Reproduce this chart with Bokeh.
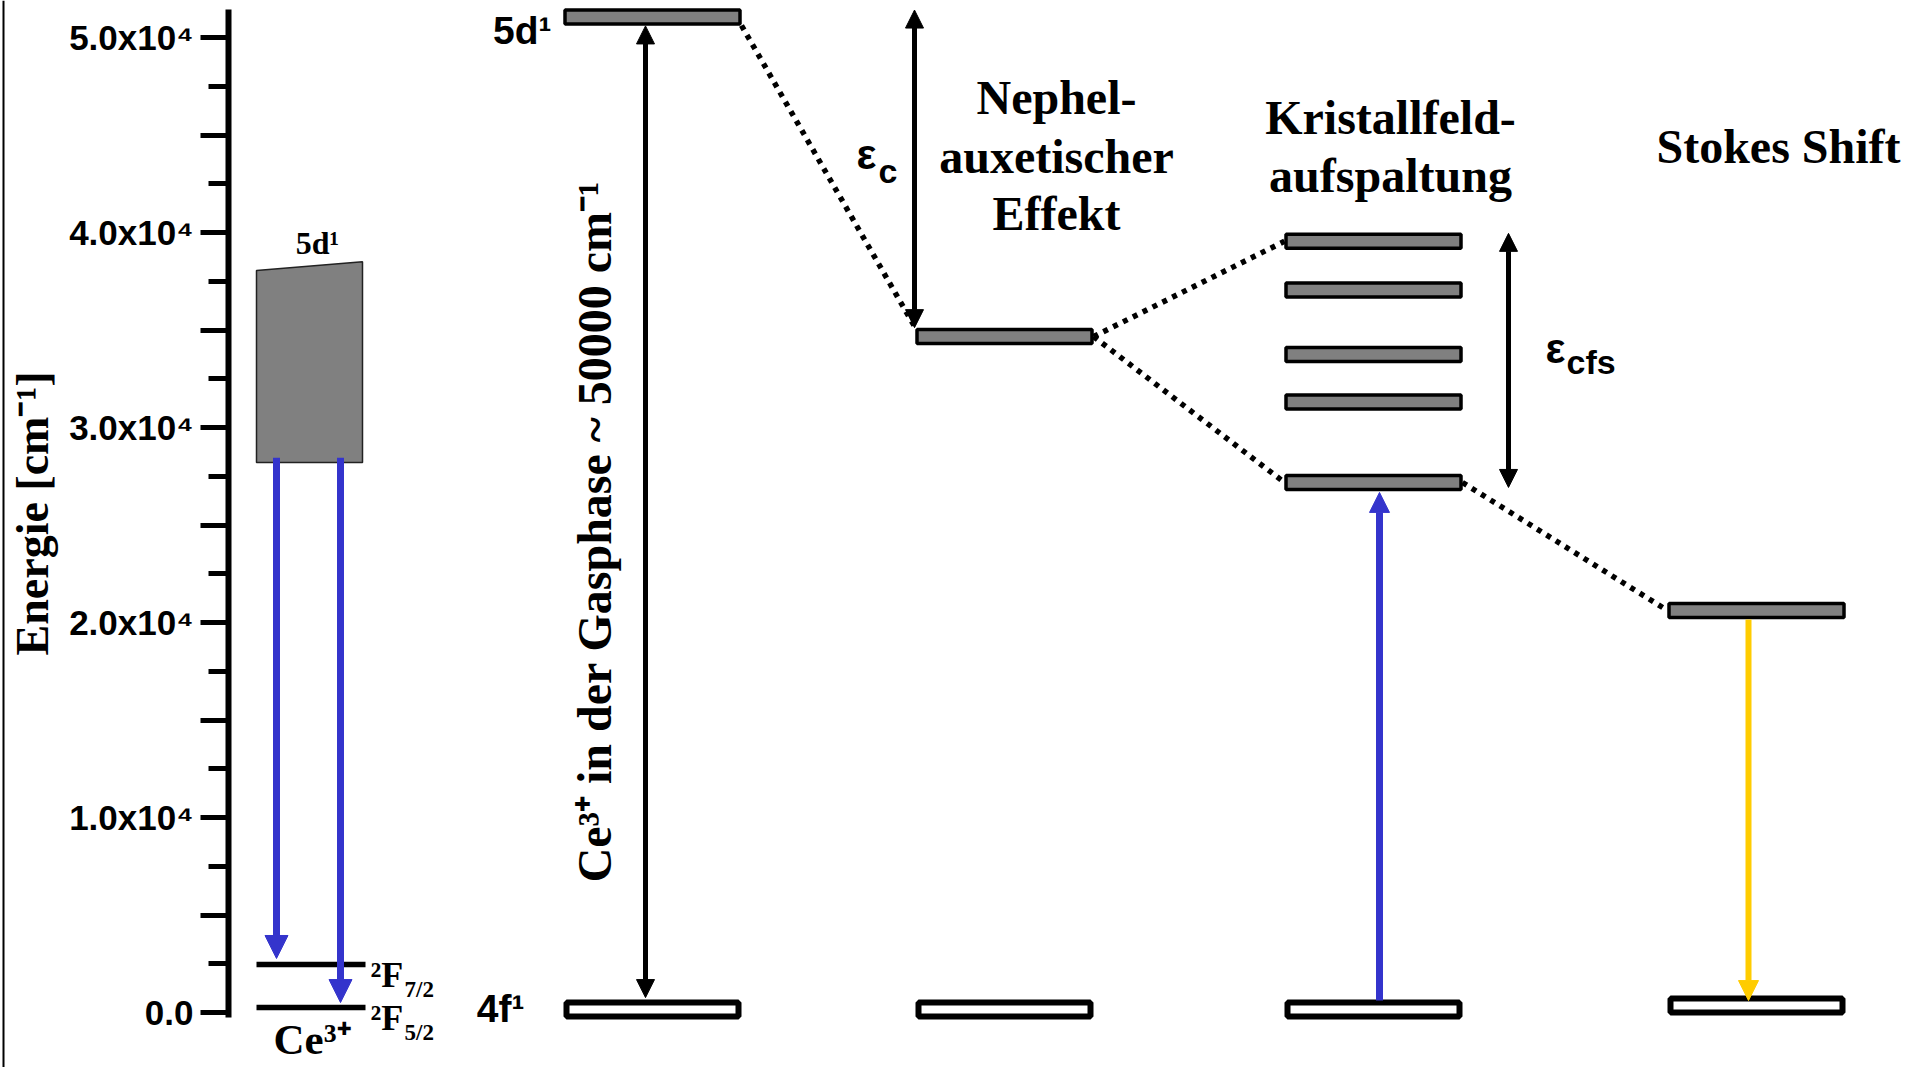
from bokeh.plotting import figure
from bokeh.models import Range1d, LinearAxis, FixedTicker, Arrow, NormalHead, Span
from bokeh.core.properties import value
from bokeh.embed import file_html
from bokeh.resources import INLINE
import math

W, H = 1919, 1067
SERIF = "Liberation Serif"
SANS = "Liberation Sans"
BLUE = "#3434CC"
YELLOW = "#FFCC00"
GREY = "#808080"

# ---- energy axis (cm^-1) ----
axis_major = [0, 5000, 10000, 15000, 20000, 25000, 30000, 35000, 40000, 45000, 50000]
axis_minor = [2500, 7500, 12500, 17500, 22500, 27500, 32500, 37500, 42500, 47500]
axis_labels = ["0.0", "", "1.0x10⁴", "", "2.0x10⁴", "", "3.0x10⁴", "", "4.0x10⁴", "", "5.0x10⁴"]

# ---- free Ce3+ ion, energies in cm^-1 ----
ion_band_top = [38050, 38500]          # upper edge of the 5d band (left, right)
ion_band_bottom = 28200
ion_levels = [2460, 260]               # 2F7/2, 2F5/2
ion_level_sub = ["7/2", "5/2"]
ion_emission_from = 28450
ion_emission_to = [2770, 510]

# ---- level scheme, energies in cm^-1 ----
ground = [0, 0, 0, 200]                # 4f1 under each step
gas_5d = 50000
nephel_5d = 33900
cfs_levels = [38700, 36250, 33000, 30600, 26550]
stokes_5d = 20100
gas_arrow = [600, 49550]
ec_arrow = [34350, 50350]
ecfs_arrow = [26300, 39100]
absorption = [450, 26050]
emission = [19650, 450]

# pixel scale of the two energy ranges
AX_PX = 0.0195        # px per cm^-1 on the energy axis, 0 at y=1012
DG_PX = 0.01985       # px per cm^-1 in the level scheme, 0 at y=1009

p = figure(width=W, height=H, x_range=Range1d(0, W),
           y_range=Range1d(-(H - 1012) / AX_PX, 1012 / AX_PX),
           x_axis_type=None, y_axis_type=None, toolbar_location=None,
           output_backend="svg", min_border=0, outline_line_color=None,
           background_fill_color="white", border_fill_color="white")
p.extra_y_ranges = {
    "diagram": Range1d(-(H - 1009) / DG_PX, 1009 / DG_PX),
    "canvas": Range1d(H, 0),
}

# frame line on the far left
p.add_layout(Span(location=3, dimension="height", line_color="black", line_width=2))

# energy axis
ax = LinearAxis(
    fixed_location=228,
    bounds=(-(1017 - 1012) / AX_PX, (1012 - 9) / AX_PX),
    ticker=FixedTicker(ticks=axis_major, minor_ticks=axis_minor),
    major_label_overrides=dict(zip(axis_major, axis_labels)),
    axis_label="Energie [cm⁻¹]",
    axis_label_text_font=SERIF, axis_label_text_font_style="bold",
    axis_label_text_font_size="46px", axis_label_text_color="black",
    axis_label_standoff=8,
    major_label_text_font=SANS, major_label_text_font_style="bold",
    major_label_text_font_size="35px", major_label_text_color="black",
    major_label_standoff=7,
    axis_line_width=6, axis_line_color="black",
    major_tick_in=0, major_tick_out=28, major_tick_line_width=5,
    minor_tick_in=0, minor_tick_out=20, minor_tick_line_width=5,
)
p.add_layout(ax, "left")

# the text baseline sits about a third of an em below the requested point
LIFT = 0.34


def label(x, y, s, size, font=SERIF, align="center", angle=0.0, color="black"):
    dx = -LIFT * size * math.sin(angle)
    dy = -LIFT * size * math.cos(angle)
    p.text(x=[x + dx], y=[y + dy], text=[s], text_font=value(font), text_font_style="bold",
           text_font_size=f"{size}px", text_align=align, text_baseline="alphabetic",
           angle=angle, text_color=color, y_range_name="canvas")


def arrow(x, ys, color, lw, size, both=False, rng="diagram"):
    def head():
        return NormalHead(size=size, fill_color=color, line_color=color, line_width=1)
    p.add_layout(Arrow(x_start=x, y_start=ys[0], x_end=x, y_end=ys[1],
                       start=head() if both else None, end=head(),
                       line_color=color, line_width=lw, y_range_name=rng))


# ---- free ion panel ----
p.patch(x=[256, 362, 362, 256],
        y=[ion_band_top[0], ion_band_top[1], ion_band_bottom, ion_band_bottom],
        fill_color=GREY, line_color="#222222", line_width=1.5)
p.segment(x0=[256] * 2, x1=[365] * 2, y0=ion_levels, y1=ion_levels,
          line_color="black", line_width=5.5)
for xa, tip in zip([276, 340], ion_emission_to):
    arrow(xa, [ion_emission_from, tip], BLUE, 7, 23, rng="default")

label(317, 253, "5d¹", 32)
for lvl, sub in zip(ion_levels, ion_level_sub):
    yb = 1012 - lvl * AX_PX
    label(370, yb + 23, "²F", 36, align="left")
    label(404, yb + 33, sub, 23, align="left")
label(273, 1054, "Ce³⁺", 43, align="left")

# ---- level scheme ----
col_left = [563, 915, 1284, 1667]
bar_w = 178
centers = [c + bar_w / 2 for c in col_left]
half = 8.5 / DG_PX

grey_x = [centers[0], centers[1]] + [centers[2]] * len(cfs_levels) + [centers[3]]
grey_y = [gas_5d, nephel_5d] + cfs_levels + [stokes_5d]

# dotted connectors between the steps
p.segment(x0=[col_left[0] + bar_w, col_left[1] + bar_w, col_left[1] + bar_w, col_left[2] + bar_w],
          y0=[gas_5d - half, nephel_5d, nephel_5d, cfs_levels[-1]],
          x1=[col_left[1], col_left[2], col_left[2], col_left[3]],
          y1=[nephel_5d + half, cfs_levels[0], cfs_levels[-1], stokes_5d],
          line_color="black", line_width=5.5, line_dash="5 6", y_range_name="diagram")

p.rect(x=grey_x, y=grey_y, width=bar_w - 3, height=14, height_units="screen",
       fill_color=GREY, line_color="black", line_width=3.5, y_range_name="diagram")
p.rect(x=centers, y=ground, width=bar_w - 6, height=14, height_units="screen",
       fill_color="white", line_color="black", line_width=6, y_range_name="diagram")

arrow(645, gas_arrow, "black", 5, 18, both=True)
arrow(914, ec_arrow, "black", 5, 18, both=True)
arrow(1508, ecfs_arrow, "black", 5, 18, both=True)
arrow(1379, absorption, BLUE, 7, 20)
arrow(1748, emission, YELLOW, 6, 20)

label(551, 43, "5d¹", 39, font=SANS, align="right")
label(524, 1021, "4f¹", 39, font=SANS, align="right")
label(610, 531, "Ce³⁺ in der Gasphase ~ 50000 cm⁻¹", 48, angle=math.pi / 2)

label(856, 168, "ε", 42, font=SANS, align="left")
label(878, 182, "c", 34, font=SANS, align="left")
label(1545, 362, "ε", 42, font=SANS, align="left")
label(1566, 373, "cfs", 34, font=SANS, align="left")

for s, yb in zip(["Nephel-", "auxetischer", "Effekt"], [113, 172, 229]):
    label(1056, yb, s, 48)
for s, yb in zip(["Kristallfeld-", "aufspaltung"], [133, 191]):
    label(1390, yb, s, 48)
label(1778, 162, "Stokes Shift", 48)

open("out.html", "w").write(file_html(p, INLINE))
